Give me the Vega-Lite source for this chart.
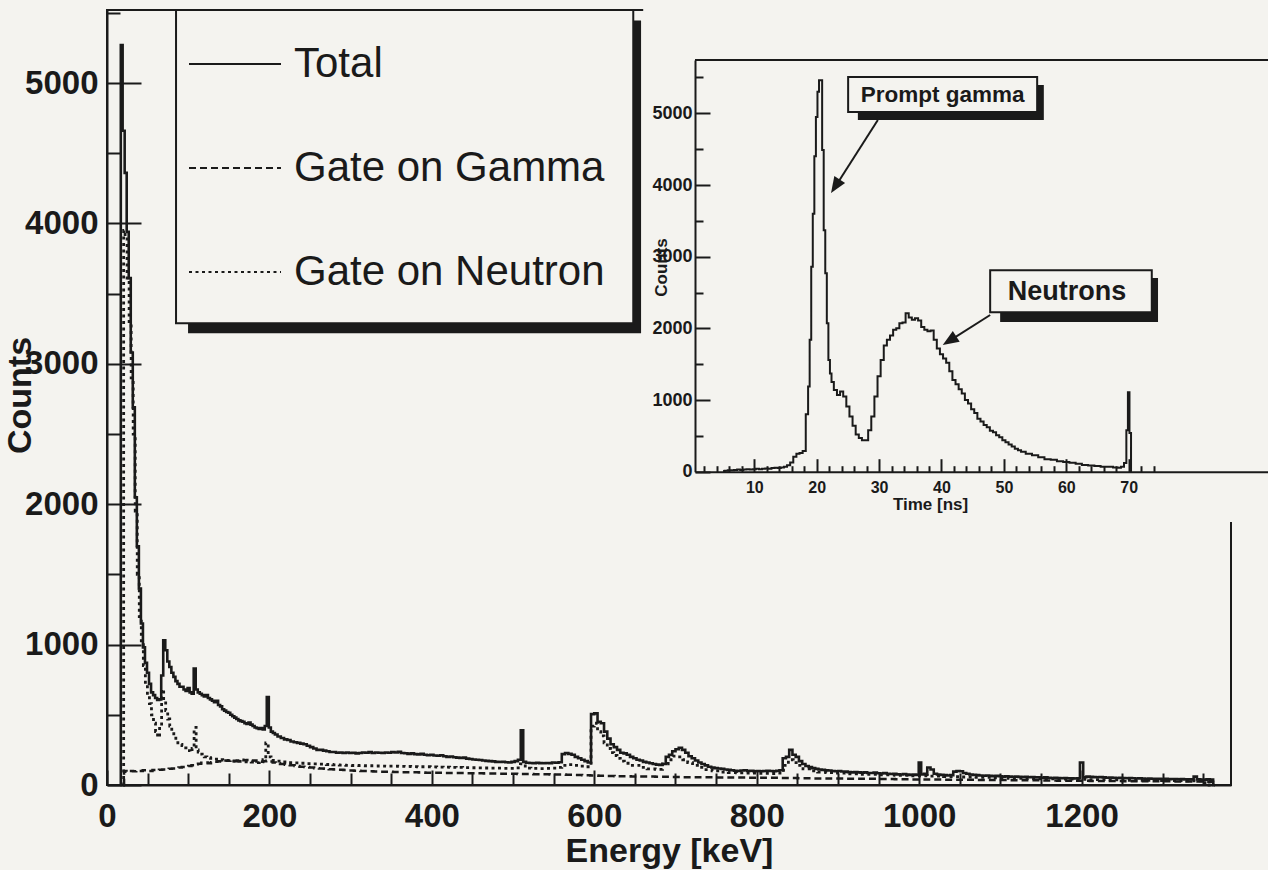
{
"$schema": "https://vega.github.io/schema/vega-lite/v6.json",
"width": 1124, "height": 775,
"autosize": "none",
"padding": {"left": 107, "top": 10, "right": 37, "bottom": 85},
"background": "#f4f3ef",
"config": {"view": {"stroke": "#1a1a1a", "strokeWidth": 2}, "font": "Liberation Sans", "axis": {"labelOverlap": false, "labelFlush": false, "labelBound": false}},
"datasets": {
"total": [
{"e":16,"c":0},{"e":18,"c":5270},{"e":20.5,"c":4660},{"e":23,"c":4360},{"e":25.5,"c":3940},{"e":28,"c":3610},{"e":30.5,"c":3080},{"e":33,"c":2690},{"e":35.5,"c":2050},{"e":38,"c":1700},{"e":40.5,"c":1400},{"e":43,"c":1150},{"e":45.5,"c":980},{"e":48,"c":870},{"e":50.5,"c":800},{"e":53,"c":720},{"e":55.5,"c":660},{"e":58,"c":640},{"e":60.5,"c":620},{"e":63,"c":605},{"e":65.5,"c":610},{"e":68,"c":780},{"e":70.5,"c":1030},{"e":73,"c":960},{"e":75.5,"c":880},{"e":78,"c":840},{"e":80.5,"c":800},{"e":83,"c":770},{"e":85.5,"c":740},{"e":88,"c":720},{"e":90.5,"c":700},{"e":93,"c":700},{"e":95.5,"c":680},{"e":98,"c":670},{"e":100.5,"c":690},{"e":103,"c":660},{"e":105.5,"c":650},{"e":108,"c":830},{"e":110.5,"c":680},{"e":113,"c":660},{"e":115.5,"c":650},{"e":118,"c":640},{"e":120.5,"c":630},{"e":123,"c":640},{"e":125.5,"c":620},{"e":128,"c":610},{"e":130.5,"c":600},{"e":133,"c":590},{"e":135.5,"c":600},{"e":138,"c":570},{"e":140.5,"c":560},{"e":143,"c":540},{"e":145.5,"c":530},{"e":148,"c":520},{"e":150.5,"c":515},{"e":153,"c":500},{"e":155.5,"c":490},{"e":158,"c":480},{"e":160.5,"c":470},{"e":163,"c":460},{"e":165.5,"c":455},{"e":168,"c":450},{"e":170.5,"c":440},{"e":173,"c":435},{"e":175.5,"c":445},{"e":178,"c":430},{"e":180.5,"c":420},{"e":183,"c":410},{"e":185.5,"c":405},{"e":188,"c":400},{"e":190.5,"c":405},{"e":193,"c":395},{"e":195.5,"c":420},{"e":198,"c":626},{"e":200.5,"c":410},{"e":203,"c":380},{"e":205.5,"c":370},{"e":208,"c":360},{"e":212,"c":345},{"e":216,"c":335},{"e":220,"c":325},{"e":224,"c":320},{"e":228,"c":310},{"e":232,"c":305},{"e":236,"c":300},{"e":240,"c":295},{"e":244,"c":290},{"e":248,"c":280},{"e":252,"c":270},{"e":256,"c":260},{"e":260,"c":250},{"e":264,"c":250},{"e":268,"c":245},{"e":272,"c":240},{"e":276,"c":235},{"e":280,"c":235},{"e":284,"c":230},{"e":288,"c":232},{"e":292,"c":228},{"e":296,"c":232},{"e":300,"c":228},{"e":304,"c":230},{"e":308,"c":225},{"e":312,"c":228},{"e":316,"c":232},{"e":320,"c":230},{"e":324,"c":234},{"e":328,"c":228},{"e":332,"c":232},{"e":336,"c":230},{"e":340,"c":228},{"e":344,"c":232},{"e":348,"c":230},{"e":352,"c":235},{"e":356,"c":232},{"e":360,"c":236},{"e":364,"c":228},{"e":368,"c":226},{"e":372,"c":222},{"e":376,"c":225},{"e":380,"c":220},{"e":384,"c":218},{"e":388,"c":222},{"e":392,"c":215},{"e":396,"c":212},{"e":400,"c":215},{"e":404,"c":210},{"e":408,"c":208},{"e":412,"c":212},{"e":416,"c":205},{"e":420,"c":200},{"e":424,"c":203},{"e":428,"c":198},{"e":432,"c":195},{"e":436,"c":192},{"e":440,"c":195},{"e":444,"c":188},{"e":448,"c":185},{"e":452,"c":182},{"e":456,"c":180},{"e":460,"c":178},{"e":464,"c":175},{"e":468,"c":172},{"e":472,"c":170},{"e":476,"c":168},{"e":480,"c":165},{"e":484,"c":164},{"e":488,"c":166},{"e":492,"c":162},{"e":496,"c":160},{"e":500,"c":165},{"e":504,"c":170},{"e":508,"c":180},{"e":511,"c":390},{"e":514,"c":165},{"e":518,"c":158},{"e":522,"c":157},{"e":526,"c":155},{"e":530,"c":158},{"e":534,"c":156},{"e":538,"c":155},{"e":542,"c":157},{"e":546,"c":156},{"e":550,"c":160},{"e":554,"c":158},{"e":558,"c":162},{"e":562,"c":220},{"e":566,"c":228},{"e":570,"c":222},{"e":574,"c":215},{"e":578,"c":200},{"e":582,"c":190},{"e":586,"c":180},{"e":590,"c":170},{"e":594,"c":160},{"e":598,"c":505},{"e":602,"c":510},{"e":606,"c":450},{"e":610,"c":440},{"e":614,"c":380},{"e":618,"c":330},{"e":622,"c":290},{"e":626,"c":270},{"e":630,"c":250},{"e":634,"c":230},{"e":638,"c":225},{"e":642,"c":215},{"e":646,"c":200},{"e":650,"c":190},{"e":654,"c":180},{"e":658,"c":175},{"e":662,"c":165},{"e":666,"c":160},{"e":670,"c":155},{"e":674,"c":150},{"e":678,"c":145},{"e":682,"c":143},{"e":686,"c":150},{"e":690,"c":200},{"e":694,"c":215},{"e":698,"c":240},{"e":702,"c":255},{"e":706,"c":265},{"e":710,"c":250},{"e":714,"c":230},{"e":718,"c":205},{"e":722,"c":190},{"e":726,"c":175},{"e":730,"c":160},{"e":734,"c":150},{"e":738,"c":140},{"e":742,"c":130},{"e":746,"c":125},{"e":750,"c":120},{"e":754,"c":118},{"e":758,"c":115},{"e":762,"c":110},{"e":766,"c":108},{"e":770,"c":105},{"e":774,"c":102},{"e":778,"c":100},{"e":782,"c":103},{"e":786,"c":105},{"e":790,"c":100},{"e":794,"c":102},{"e":798,"c":98},{"e":802,"c":100},{"e":806,"c":98},{"e":810,"c":100},{"e":814,"c":102},{"e":818,"c":100},{"e":822,"c":98},{"e":826,"c":102},{"e":830,"c":105},{"e":834,"c":190},{"e":838,"c":200},{"e":842,"c":250},{"e":846,"c":215},{"e":850,"c":200},{"e":854,"c":170},{"e":858,"c":150},{"e":862,"c":135},{"e":866,"c":128},{"e":870,"c":120},{"e":874,"c":115},{"e":878,"c":110},{"e":882,"c":108},{"e":886,"c":105},{"e":890,"c":103},{"e":894,"c":100},{"e":898,"c":98},{"e":902,"c":100},{"e":906,"c":96},{"e":910,"c":95},{"e":914,"c":92},{"e":918,"c":90},{"e":922,"c":93},{"e":926,"c":90},{"e":930,"c":88},{"e":934,"c":90},{"e":938,"c":86},{"e":942,"c":85},{"e":946,"c":88},{"e":950,"c":84},{"e":954,"c":82},{"e":958,"c":85},{"e":962,"c":80},{"e":966,"c":78},{"e":970,"c":80},{"e":974,"c":76},{"e":978,"c":75},{"e":982,"c":78},{"e":986,"c":74},{"e":990,"c":72},{"e":994,"c":74},{"e":998,"c":72},{"e":1001,"c":160},{"e":1004,"c":75},{"e":1008,"c":80},{"e":1012,"c":125},{"e":1016,"c":110},{"e":1020,"c":80},{"e":1024,"c":75},{"e":1028,"c":72},{"e":1032,"c":70},{"e":1036,"c":68},{"e":1040,"c":70},{"e":1044,"c":95},{"e":1048,"c":100},{"e":1052,"c":98},{"e":1056,"c":85},{"e":1060,"c":80},{"e":1064,"c":75},{"e":1068,"c":72},{"e":1072,"c":70},{"e":1076,"c":68},{"e":1080,"c":66},{"e":1084,"c":68},{"e":1088,"c":65},{"e":1092,"c":63},{"e":1096,"c":65},{"e":1100,"c":62},{"e":1104,"c":60},{"e":1108,"c":62},{"e":1112,"c":60},{"e":1116,"c":58},{"e":1120,"c":60},{"e":1124,"c":58},{"e":1128,"c":56},{"e":1132,"c":58},{"e":1136,"c":55},{"e":1140,"c":56},{"e":1144,"c":54},{"e":1148,"c":55},{"e":1152,"c":52},{"e":1156,"c":54},{"e":1160,"c":52},{"e":1164,"c":50},{"e":1168,"c":52},{"e":1172,"c":50},{"e":1176,"c":48},{"e":1180,"c":50},{"e":1184,"c":48},{"e":1188,"c":47},{"e":1192,"c":46},{"e":1196,"c":48},{"e":1200,"c":160},{"e":1204,"c":55},{"e":1208,"c":60},{"e":1212,"c":58},{"e":1216,"c":56},{"e":1220,"c":55},{"e":1224,"c":56},{"e":1228,"c":54},{"e":1232,"c":52},{"e":1236,"c":53},{"e":1240,"c":52},{"e":1244,"c":50},{"e":1248,"c":51},{"e":1252,"c":50},{"e":1256,"c":48},{"e":1260,"c":49},{"e":1264,"c":48},{"e":1268,"c":46},{"e":1272,"c":47},{"e":1276,"c":46},{"e":1280,"c":45},{"e":1284,"c":46},{"e":1288,"c":44},{"e":1292,"c":45},{"e":1296,"c":44},{"e":1300,"c":43},{"e":1304,"c":44},{"e":1308,"c":42},{"e":1312,"c":43},{"e":1316,"c":42},{"e":1320,"c":41},{"e":1324,"c":42},{"e":1328,"c":40},{"e":1332,"c":41},{"e":1336,"c":40},{"e":1340,"c":60},{"e":1344,"c":40},{"e":1348,"c":39},{"e":1352,"c":38},{"e":1356,"c":40},{"e":1360,"c":38},{"e":1364,"c":0}
],
"gamma": [
{"e":20,"c":0},{"e":22,"c":100},{"e":26,"c":95},{"e":30,"c":100},{"e":34,"c":98},{"e":38,"c":102},{"e":42,"c":100},{"e":46,"c":105},{"e":50,"c":103},{"e":54,"c":100},{"e":58,"c":106},{"e":62,"c":104},{"e":66,"c":108},{"e":70,"c":110},{"e":74,"c":112},{"e":78,"c":115},{"e":82,"c":118},{"e":86,"c":122},{"e":90,"c":125},{"e":94,"c":128},{"e":98,"c":132},{"e":102,"c":135},{"e":106,"c":140},{"e":110,"c":148},{"e":114,"c":152},{"e":118,"c":158},{"e":122,"c":160},{"e":126,"c":155},{"e":130,"c":162},{"e":134,"c":165},{"e":138,"c":170},{"e":142,"c":168},{"e":146,"c":175},{"e":150,"c":172},{"e":154,"c":178},{"e":158,"c":170},{"e":162,"c":175},{"e":166,"c":180},{"e":170,"c":176},{"e":174,"c":178},{"e":178,"c":172},{"e":182,"c":175},{"e":186,"c":168},{"e":190,"c":165},{"e":194,"c":170},{"e":198,"c":172},{"e":202,"c":168},{"e":206,"c":160},{"e":210,"c":155},{"e":216,"c":150},{"e":222,"c":145},{"e":228,"c":140},{"e":234,"c":135},{"e":240,"c":130},{"e":246,"c":128},{"e":252,"c":125},{"e":258,"c":120},{"e":264,"c":118},{"e":270,"c":115},{"e":276,"c":112},{"e":282,"c":110},{"e":288,"c":108},{"e":294,"c":106},{"e":300,"c":104},{"e":308,"c":102},{"e":316,"c":100},{"e":324,"c":98},{"e":332,"c":96},{"e":340,"c":95},{"e":348,"c":94},{"e":356,"c":92},{"e":364,"c":91},{"e":372,"c":90},{"e":380,"c":90},{"e":388,"c":89},{"e":396,"c":88},{"e":404,"c":88},{"e":412,"c":87},{"e":420,"c":86},{"e":428,"c":85},{"e":436,"c":85},{"e":444,"c":84},{"e":452,"c":84},{"e":460,"c":83},{"e":468,"c":82},{"e":476,"c":82},{"e":484,"c":81},{"e":492,"c":80},{"e":500,"c":80},{"e":510,"c":79},{"e":520,"c":78},{"e":530,"c":77},{"e":540,"c":76},{"e":550,"c":75},{"e":560,"c":74},{"e":570,"c":73},{"e":580,"c":72},{"e":590,"c":70},{"e":600,"c":68},{"e":610,"c":66},{"e":620,"c":64},{"e":630,"c":63},{"e":640,"c":62},{"e":650,"c":61},{"e":660,"c":60},{"e":670,"c":60},{"e":680,"c":59},{"e":690,"c":58},{"e":700,"c":57},{"e":720,"c":56},{"e":740,"c":55},{"e":760,"c":54},{"e":780,"c":53},{"e":800,"c":52},{"e":820,"c":51},{"e":840,"c":50},{"e":860,"c":48},{"e":880,"c":47},{"e":900,"c":46},{"e":920,"c":45},{"e":940,"c":44},{"e":960,"c":42},{"e":980,"c":41},{"e":1000,"c":40},{"e":1020,"c":39},{"e":1040,"c":38},{"e":1060,"c":37},{"e":1080,"c":36},{"e":1100,"c":35},{"e":1120,"c":34},{"e":1140,"c":33},{"e":1160,"c":32},{"e":1180,"c":31},{"e":1200,"c":30},{"e":1220,"c":29},{"e":1240,"c":28},{"e":1260,"c":27},{"e":1280,"c":27},{"e":1300,"c":26},{"e":1320,"c":25},{"e":1340,"c":25},{"e":1360,"c":24},{"e":1364,"c":0}
],
"neutron": [
{"e":20,"c":0},{"e":21,"c":3950},{"e":23.5,"c":3900},{"e":26,"c":3600},{"e":28.5,"c":3300},{"e":31,"c":2900},{"e":33.5,"c":2500},{"e":36,"c":1950},{"e":38.5,"c":1500},{"e":41,"c":1200},{"e":43.5,"c":1000},{"e":46,"c":850},{"e":48.5,"c":720},{"e":51,"c":640},{"e":53.5,"c":580},{"e":56,"c":500},{"e":58.5,"c":440},{"e":61,"c":380},{"e":63.5,"c":340},{"e":66,"c":420},{"e":68.5,"c":680},{"e":71,"c":600},{"e":73.5,"c":530},{"e":76,"c":470},{"e":78.5,"c":420},{"e":81,"c":380},{"e":83.5,"c":350},{"e":86,"c":320},{"e":88.5,"c":300},{"e":91,"c":290},{"e":93.5,"c":280},{"e":96,"c":265},{"e":98.5,"c":255},{"e":101,"c":245},{"e":103.5,"c":235},{"e":106,"c":260},{"e":108.5,"c":410},{"e":111,"c":250},{"e":113.5,"c":235},{"e":116,"c":220},{"e":118.5,"c":210},{"e":121,"c":200},{"e":125,"c":195},{"e":130,"c":190},{"e":135,"c":185},{"e":140,"c":180},{"e":145,"c":178},{"e":150,"c":175},{"e":155,"c":172},{"e":160,"c":170},{"e":165,"c":168},{"e":170,"c":165},{"e":175,"c":165},{"e":180,"c":163},{"e":185,"c":160},{"e":190,"c":165},{"e":194,"c":180},{"e":197,"c":300},{"e":200,"c":200},{"e":204,"c":175},{"e":210,"c":170},{"e":218,"c":165},{"e":226,"c":160},{"e":234,"c":158},{"e":242,"c":155},{"e":250,"c":152},{"e":258,"c":150},{"e":266,"c":148},{"e":274,"c":146},{"e":282,"c":144},{"e":290,"c":142},{"e":298,"c":140},{"e":306,"c":139},{"e":314,"c":138},{"e":322,"c":137},{"e":330,"c":136},{"e":338,"c":135},{"e":346,"c":134},{"e":354,"c":134},{"e":362,"c":133},{"e":370,"c":132},{"e":378,"c":131},{"e":386,"c":130},{"e":394,"c":130},{"e":402,"c":129},{"e":410,"c":128},{"e":418,"c":127},{"e":426,"c":126},{"e":434,"c":125},{"e":442,"c":124},{"e":450,"c":123},{"e":458,"c":122},{"e":466,"c":121},{"e":474,"c":120},{"e":482,"c":120},{"e":490,"c":119},{"e":498,"c":118},{"e":506,"c":122},{"e":512,"c":150},{"e":518,"c":120},{"e":526,"c":118},{"e":534,"c":117},{"e":542,"c":118},{"e":550,"c":120},{"e":558,"c":125},{"e":562,"c":140},{"e":570,"c":145},{"e":578,"c":140},{"e":586,"c":135},{"e":594,"c":130},{"e":598,"c":420},{"e":602,"c":440},{"e":606,"c":380},{"e":610,"c":350},{"e":614,"c":300},{"e":618,"c":260},{"e":622,"c":230},{"e":626,"c":210},{"e":630,"c":190},{"e":634,"c":170},{"e":640,"c":155},{"e":650,"c":140},{"e":660,"c":125},{"e":670,"c":115},{"e":680,"c":112},{"e":688,"c":150},{"e":694,"c":180},{"e":700,"c":205},{"e":706,"c":200},{"e":712,"c":180},{"e":718,"c":160},{"e":724,"c":140},{"e":730,"c":125},{"e":740,"c":110},{"e":750,"c":100},{"e":760,"c":92},{"e":770,"c":88},{"e":780,"c":86},{"e":790,"c":85},{"e":800,"c":84},{"e":810,"c":83},{"e":820,"c":82},{"e":830,"c":84},{"e":836,"c":140},{"e":842,"c":180},{"e":848,"c":160},{"e":854,"c":140},{"e":860,"c":115},{"e":870,"c":100},{"e":880,"c":92},{"e":890,"c":88},{"e":900,"c":85},{"e":920,"c":80},{"e":940,"c":76},{"e":960,"c":72},{"e":980,"c":69},{"e":1000,"c":66},{"e":1020,"c":63},{"e":1040,"c":60},{"e":1060,"c":57},{"e":1080,"c":54},{"e":1100,"c":51},{"e":1120,"c":48},{"e":1140,"c":46},{"e":1160,"c":44},{"e":1180,"c":42},{"e":1200,"c":40},{"e":1220,"c":38},{"e":1240,"c":36},{"e":1260,"c":34},{"e":1280,"c":33},{"e":1300,"c":32},{"e":1320,"c":31},{"e":1340,"c":30},{"e":1364,"c":0}
],
"tof": [
{"t":5,"n":10},{"t":5.5,"n":15},{"t":6,"n":20},{"t":6.5,"n":20},{"t":7,"n":25},{"t":7.5,"n":30},{"t":8,"n":25},{"t":8.5,"n":30},{"t":9,"n":35},{"t":9.5,"n":30},{"t":10,"n":35},{"t":10.5,"n":40},{"t":11,"n":35},{"t":11.5,"n":40},{"t":12,"n":45},{"t":12.5,"n":40},{"t":13,"n":50},{"t":13.5,"n":55},{"t":14,"n":50},{"t":14.5,"n":60},{"t":15,"n":70},{"t":15.5,"n":90},{"t":16,"n":130},{"t":16.5,"n":210},{"t":17,"n":250},{"t":17.5,"n":260},{"t":18,"n":290},{"t":18.5,"n":800},{"t":18.75,"n":1190},{"t":19,"n":1840},{"t":19.25,"n":2860},{"t":19.5,"n":3600},{"t":19.75,"n":4400},{"t":20,"n":4950},{"t":20.25,"n":5300},{"t":20.5,"n":5460},{"t":20.75,"n":5460},{"t":21,"n":4490},{"t":21.25,"n":3370},{"t":21.5,"n":2770},{"t":21.75,"n":2070},{"t":22,"n":1560},{"t":22.25,"n":1370},{"t":22.5,"n":1250},{"t":23,"n":1140},{"t":23.5,"n":1070},{"t":24,"n":1120},{"t":24.5,"n":1050},{"t":25,"n":910},{"t":25.5,"n":770},{"t":26,"n":640},{"t":26.5,"n":520},{"t":27,"n":470},{"t":27.5,"n":440},{"t":28,"n":440},{"t":28.5,"n":580},{"t":29,"n":770},{"t":29.5,"n":1050},{"t":30,"n":1330},{"t":30.5,"n":1560},{"t":31,"n":1760},{"t":31.5,"n":1840},{"t":32,"n":1900},{"t":32.5,"n":1980},{"t":33,"n":2000},{"t":33.5,"n":2070},{"t":34,"n":2080},{"t":34.5,"n":2210},{"t":35,"n":2150},{"t":35.5,"n":2120},{"t":36,"n":2140},{"t":36.5,"n":2110},{"t":37,"n":2020},{"t":37.5,"n":1980},{"t":38,"n":1960},{"t":38.5,"n":1970},{"t":39,"n":1840},{"t":39.5,"n":1720},{"t":40,"n":1640},{"t":40.5,"n":1580},{"t":41,"n":1520},{"t":41.5,"n":1400},{"t":42,"n":1280},{"t":42.5,"n":1220},{"t":43,"n":1150},{"t":43.5,"n":1090},{"t":44,"n":1000},{"t":44.5,"n":950},{"t":45,"n":870},{"t":45.5,"n":820},{"t":46,"n":740},{"t":46.5,"n":700},{"t":47,"n":650},{"t":47.5,"n":620},{"t":48,"n":570},{"t":48.5,"n":550},{"t":49,"n":510},{"t":49.5,"n":480},{"t":50,"n":440},{"t":50.5,"n":410},{"t":51,"n":380},{"t":51.5,"n":350},{"t":52,"n":320},{"t":52.5,"n":300},{"t":53,"n":280},{"t":54,"n":250},{"t":55,"n":230},{"t":56,"n":200},{"t":57,"n":175},{"t":58,"n":165},{"t":59,"n":145},{"t":60,"n":135},{"t":61,"n":125},{"t":62,"n":110},{"t":63,"n":95},{"t":64,"n":85},{"t":65,"n":80},{"t":66,"n":70},{"t":67,"n":70},{"t":68,"n":60},{"t":68.5,"n":55},{"t":69,"n":70},{"t":69.5,"n":120},{"t":69.75,"n":580},{"t":70,"n":1110},{"t":70.25,"n":540},{"t":70.5,"n":0}
]
},
"layer": [
{
"layer": [
{
"data": {"name": "total"},
"mark": {"type": "line", "interpolate": "step", "strokeWidth": 2.6, "color": "#1a1a1a"},
"encoding": {
"x": {"field": "e", "type": "quantitative", "scale": {"domain": [0, 1384], "nice": false, "zero": false},
"axis": {"orient": "bottom", "values": [0,50,100,150,200,250,300,350,400,450,500,550,600,650,700,750,800,850,900,950,1000,1050,1100,1150,1200,1250,1300,1350],
"labelExpr": "datum.value % 200 === 0 ? datum.label : ''", "format": "d",
"tickSize": {"condition": {"test": "datum.value % 200 === 0", "value": -15}, "value": -12},
"tickWidth": 2, "tickColor": "#1a1a1a", "domainColor": "#1a1a1a", "domainWidth": 2, "grid": false,
"labelFontSize": 33, "labelFontWeight": "bold", "labelColor": "#1a1a1a", "labelPadding": 30,
"title": "Energy [keV]", "titleFontSize": 34, "titleFontWeight": "bold", "titleColor": "#1a1a1a",
"titleX": 562, "titleY": 76, "titleBaseline": "alphabetic", "titleAlign": "center"}},
"y": {"field": "c", "type": "quantitative", "scale": {"domain": [0, 5520], "nice": false},
"axis": {"orient": "left", "values": [0,500,1000,1500,2000,2500,3000,3500,4000,4500,5000,5500],
"labelExpr": "datum.value % 1000 === 0 ? datum.label : ''", "format": "d",
"tickSize": {"condition": {"test": "datum.value % 1000 === 0", "value": -34}, "value": -13},
"tickWidth": 2, "tickColor": "#1a1a1a", "domainColor": "#1a1a1a", "domainWidth": 2, "grid": false,
"labelFontSize": 33, "labelFontWeight": "bold", "labelColor": "#1a1a1a", "labelPadding": 43,
"title": "Counts", "titleFontSize": 34, "titleFontWeight": "bold", "titleColor": "#1a1a1a",
"titleAngle": 270, "titleX": -77, "titleY": 385, "titleBaseline": "alphabetic", "titleAlign": "center"}},
"strokeDash": {"datum": "Total", "type": "nominal",
"scale": {"domain": ["Total", "Gate on Gamma", "Gate on Neutron"], "range": [[1, 0], [7, 4], [3, 3.5]]},
"legend": {"orient": "none", "legendX": 81, "legendY": 7, "title": null, "symbolType": "stroke", "symbolSize": 8464,
"symbolStrokeWidth": 2, "symbolStrokeColor": "#1a1a1a", "labelFontSize": 42, "labelColor": "#1a1a1a",
"labelFont": "Liberation Sans", "labelOffset": 12, "rowPadding": 36, "labelLimit": 0, "padding": 0}}
}
},
{
"data": {"name": "gamma"},
"mark": {"type": "line", "interpolate": "step", "strokeWidth": 2.5, "color": "#1a1a1a"},
"encoding": {"x": {"field": "e", "type": "quantitative"}, "y": {"field": "c", "type": "quantitative"},
"strokeDash": {"datum": "Gate on Gamma", "type": "nominal"}}
},
{
"data": {"name": "neutron"},
"mark": {"type": "line", "interpolate": "step", "strokeWidth": 2.8, "color": "#1a1a1a"},
"encoding": {"x": {"field": "e", "type": "quantitative"}, "y": {"field": "c", "type": "quantitative"},
"strokeDash": {"datum": "Gate on Neutron", "type": "nominal"}}
},
{
"data": {"values": [{}]},
"mark": {"type": "rect", "color": "#1a1a1a"},
"encoding": {"x": {"datum": 99.8, "type": "quantitative"}, "x2": {"datum": 657.6}, "y": {"datum": 3217, "type": "quantitative"}, "y2": {"datum": 5445}}
},
{
"data": {"values": [{}]},
"mark": {"type": "rect", "fill": "#f4f3ef", "stroke": "#1a1a1a", "strokeWidth": 2},
"encoding": {"x": {"datum": 85, "type": "quantitative"}, "x2": {"datum": 648}, "y": {"datum": 3288, "type": "quantitative"}, "y2": {"datum": 5520}}
}
]
},
{
"layer": [
{
"data": {"values": [{}]},
"mark": {"type": "rect", "fill": "#f4f3ef"},
"encoding": {"x": {"datum": -7.8, "type": "quantitative"}, "x2": {"datum": 110}, "y": {"datum": -702, "type": "quantitative"}, "y2": {"datum": 6581}}
},
{
"data": {"values": [{}]},
"mark": {"type": "rule", "color": "#1a1a1a", "strokeWidth": 2},
"encoding": {"x": {"datum": 0.5, "type": "quantitative"}, "x2": {"datum": 110}, "y": {"datum": 5744, "type": "quantitative"}}
},
{
"data": {"name": "tof"},
"mark": {"type": "line", "interpolate": "step", "strokeWidth": 2, "color": "#1a1a1a"},
"encoding": {
"x": {"field": "t", "type": "quantitative", "scale": {"domain": [0.5, 110], "range": [588, 1271.3], "nice": false, "zero": false},
"axis": {"orient": "bottom", "values": [10,20,30,40,50,60,70], "format": "d", "offset": -313.3, "zindex": 1,
"tickSize": -13, "tickWidth": 2, "tickColor": "#1a1a1a", "domainColor": "#1a1a1a", "domainWidth": 2, "grid": false,
"labelFontSize": 16, "labelFontWeight": "bold", "labelColor": "#1a1a1a", "labelPadding": 21,
"title": "Time [ns]", "titleFontSize": 17, "titleFontWeight": "bold", "titleColor": "#1a1a1a",
"titleX": 823, "titleY": 38, "titleBaseline": "alphabetic", "titleAlign": "center"}},
"y": {"field": "n", "type": "quantitative", "scale": {"domain": [0, 5744], "range": [461.7, 50], "nice": false},
"axis": {"orient": "left", "values": [0,500,1000,1500,2000,2500,3000,3500,4000,4500,5000,5500],
"labelExpr": "datum.value % 1000 === 0 ? datum.label : ''", "format": "d", "offset": -588, "zindex": 1,
"tickSize": {"condition": {"test": "datum.value % 1000 === 0", "value": -15}, "value": -8},
"tickWidth": 2, "tickColor": "#1a1a1a", "domainColor": "#1a1a1a", "domainWidth": 2, "grid": false,
"labelFontSize": 18, "labelFontWeight": "bold", "labelColor": "#1a1a1a", "labelPadding": 18,
"title": "Counts", "titleFontSize": 17, "titleFontWeight": "bold", "titleColor": "#1a1a1a",
"titleAngle": 270, "titleX": -29, "titleY": 257, "titleBaseline": "alphabetic", "titleAlign": "center"}}
}
},
{
"data": {"values": [{}]},
"mark": {"type": "rect", "color": "#1a1a1a"},
"encoding": {"x": {"datum": 26.6, "type": "quantitative"}, "x2": {"datum": 56.4}, "y": {"datum": 4906, "type": "quantitative"}, "y2": {"datum": 5395}}
},
{
"data": {"values": [{}]},
"mark": {"type": "rect", "fill": "#f4f3ef", "stroke": "#1a1a1a", "strokeWidth": 2},
"encoding": {"x": {"datum": 25.04, "type": "quantitative"}, "x2": {"datum": 55.33}, "y": {"datum": 5018, "type": "quantitative"}, "y2": {"datum": 5506}}
},
{
"data": {"values": [{}]},
"mark": {"type": "rect", "color": "#1a1a1a"},
"encoding": {"x": {"datum": 49.4, "type": "quantitative"}, "x2": {"datum": 74.7}, "y": {"datum": 2088, "type": "quantitative"}, "y2": {"datum": 2702}}
},
{
"data": {"values": [{}]},
"mark": {"type": "rect", "fill": "#f4f3ef", "stroke": "#1a1a1a", "strokeWidth": 2},
"encoding": {"x": {"datum": 47.8, "type": "quantitative"}, "x2": {"datum": 73.7}, "y": {"datum": 2225, "type": "quantitative"}, "y2": {"datum": 2811}}
},
{
"data": {"values": [{}]},
"mark": {"type": "text", "text": "Prompt gamma", "font": "Liberation Sans", "fontSize": 22.5, "fontWeight": "bold", "color": "#1a1a1a", "align": "center", "baseline": "middle"},
"encoding": {"x": {"datum": 40.2, "type": "quantitative"}, "y": {"datum": 5255, "type": "quantitative"}}
},
{
"data": {"values": [{}]},
"mark": {"type": "text", "text": "Neutrons", "font": "Liberation Sans", "fontSize": 27, "fontWeight": "bold", "color": "#1a1a1a", "align": "center", "baseline": "middle"},
"encoding": {"x": {"datum": 60.1, "type": "quantitative"}, "y": {"datum": 2507, "type": "quantitative"}}
},
{
"data": {"values": [{}]},
"mark": {"type": "rule", "color": "#1a1a1a", "strokeWidth": 2},
"encoding": {"x": {"datum": 29.8, "type": "quantitative"}, "y": {"datum": 4906, "type": "quantitative"}, "x2": {"datum": 23.0}, "y2": {"datum": 3980}}
},
{
"data": {"values": [{}]},
"mark": {"type": "rule", "color": "#1a1a1a", "strokeWidth": 2},
"encoding": {"x": {"datum": 47.8, "type": "quantitative"}, "y": {"datum": 2186, "type": "quantitative"}, "x2": {"datum": 41.2}, "y2": {"datum": 1822}}
},
{
"data": {"values": [{}]},
"mark": {"type": "point", "shape": "M0,0L-0.4,1L0.4,1Z", "size": 1024, "angle": 212.8, "filled": true, "color": "#1a1a1a", "opacity": 1},
"encoding": {"x": {"datum": 22.3, "type": "quantitative"}, "y": {"datum": 3888, "type": "quantitative"}}
},
{
"data": {"values": [{}]},
"mark": {"type": "point", "shape": "M0,0L-0.4,1L0.4,1Z", "size": 1024, "angle": 237.5, "filled": true, "color": "#1a1a1a", "opacity": 1},
"encoding": {"x": {"datum": 40.2, "type": "quantitative"}, "y": {"datum": 1767, "type": "quantitative"}}
}
]
},
{
"data": {"values": [{}]},
"mark": {"type": "rule", "color": "#1a1a1a", "strokeWidth": 2},
"encoding": {
"x": {"datum": 0.5, "type": "quantitative", "scale": {"domain": [0.5, 110], "range": [588, 1271.3], "nice": false, "zero": false},
"axis": {"orient": "bottom", "values": [2,4,6,8,12,14,16,18,22,24,26,28,32,34,36,38,42,44,46,48,52,54,56,58,62,64,66,68,72,74],
"labels": false, "domain": false, "title": null, "offset": -313.3, "zindex": 1, "grid": false,
"tickSize": -6, "tickWidth": 2, "tickColor": "#1a1a1a"}},
"x2": {"datum": 110},
"y": {"datum": 5744, "type": "quantitative", "scale": {"domain": [0, 5744], "range": [461.7, 50], "nice": false}, "axis": null}
}
}
],
"resolve": {"scale": {"x": "independent", "y": "independent"}, "axis": {"x": "independent", "y": "independent"}}
}
